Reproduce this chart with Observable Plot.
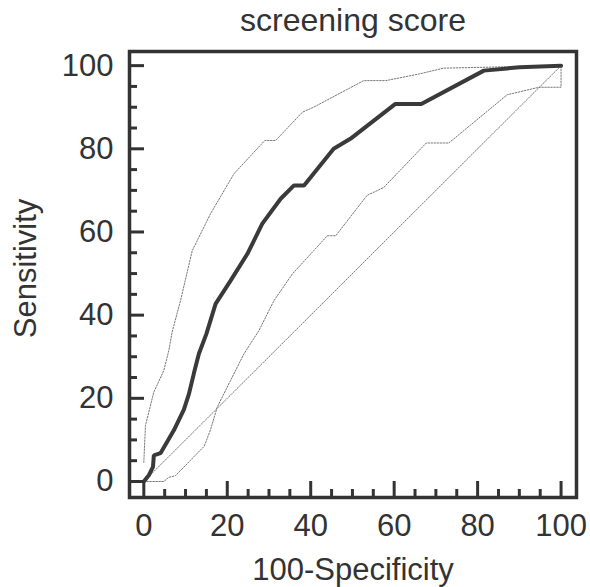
<!DOCTYPE html>
<html><head><meta charset="utf-8">
<script src="https://cdn.jsdelivr.net/npm/d3@7"></script>
<script src="https://cdn.jsdelivr.net/npm/@observablehq/plot@0.6"></script>
<style>body{margin:0;background:#fff} #chart svg{display:block}</style>
</head><body><div id="chart"></div>
<script>
// ROC curve (100-Specificity, Sensitivity)
const rocX = [0, 1.2, 2.2, 2.4, 4, 7.2, 9.6, 10.8, 12, 13.2, 15, 17.2, 20.8, 24.8, 28.4, 32.8, 36, 38.4, 45.5, 49.5, 60.3, 66.5, 81.5, 90, 100];
const rocY = [0, 1.5, 3.5, 6.3, 6.8, 12.3, 17.3, 21, 26, 30.7, 35.5, 42.7, 48.3, 54.7, 62, 68, 71.2, 71.2, 80, 82.4, 90.8, 90.8, 98.8, 99.6, 100];
// upper confidence bound
const upX = [0, 0.4, 2.4, 4.8, 6, 6.8, 8.8, 11.6, 16, 21.6, 29, 31.6, 38, 40.7, 52.7, 58, 66, 71.9, 100];
const upY = [4.6, 13.5, 21.5, 26.7, 31.5, 36, 43.5, 55.5, 64.4, 74, 82, 82, 88.8, 90, 96.4, 96.4, 98, 99.4, 100];
// lower confidence bound
const loX = [0, 4.8, 6, 7.6, 14.5, 16, 17.6, 20.8, 24, 27.6, 31.2, 35.6, 44, 46, 53.5, 57.5, 67.7, 73.1, 87.1, 94.7, 100, 100];
const loY = [0, 0, 1, 1.4, 8.5, 12.5, 17.9, 24.3, 30.7, 36.3, 43.5, 49.9, 59.1, 59.1, 68.8, 70.7, 81.4, 81.4, 93, 94.8, 94.8, 100];
// reference diagonal
const diagX = [0, 100];
const diagY = [0, 100];
// ticks
const majorTicks = [0, 20, 40, 60, 80, 100];
const minorTicks = [5, 10, 15, 25, 30, 35, 45, 50, 55, 65, 70, 75, 85, 90, 95];
const titleText = "screening score";
const xLabelText = "100-Specificity";
const yLabelText = "Sensitivity";

const pts = (xs, ys) => xs.map((x, i) => ({x, y: ys[i]}));
const font = '"Liberation Sans", Arial, Helvetica, sans-serif';
const ink = "#333";
const W = 590, H = 587, mL = 129, mR = 14, mT = 51, mB = 90;
const frameW = W - mL - mR, frameH = H - mT - mB;
const majorLen = 15, minorLen = 8;
const fs = 31;
const dotted = {stroke: "#777", strokeWidth: 1, strokeDasharray: "1.5,1.5"};
const label = {textAnchor: "middle", lineAnchor: "middle", fill: ink};

const chart = Plot.plot({
  width: W, height: H,
  marginLeft: mL, marginRight: mR, marginTop: mT, marginBottom: mB,
  style: {fontFamily: font, background: "#fff", color: ink},
  x: {domain: [-3.43, 103.7], axis: null},
  y: {domain: [-3.85, 103.4], axis: null},
  marks: [
    Plot.line(pts(diagX, diagY), {x: "x", y: "y", ...dotted}),
    Plot.line(pts(upX, upY), {x: "x", y: "y", ...dotted}),
    Plot.line(pts(loX, loY), {x: "x", y: "y", ...dotted}),
    Plot.line(pts(rocX, rocY), {x: "x", y: "y", stroke: "#3a3a3a", strokeWidth: 4, strokeLinejoin: "miter"}),
    Plot.tickY(majorTicks, {y: d => d, stroke: ink, strokeWidth: 3, insetRight: frameW - majorLen}),
    Plot.tickY(minorTicks, {y: d => d, stroke: ink, strokeWidth: 3, insetRight: frameW - minorLen}),
    Plot.tickX(majorTicks, {x: d => d, stroke: ink, strokeWidth: 3, insetTop: frameH - majorLen - 1}),
    Plot.tickX(minorTicks, {x: d => d, stroke: ink, strokeWidth: 3, insetTop: frameH - minorLen}),
    Plot.frame({stroke: ink, strokeWidth: 3.5}),
    Plot.axisX(majorTicks, {tickSize: 0, tickPadding: 16, fontSize: fs, fill: ink, label: null}),
    Plot.axisY(majorTicks, {tickSize: 0, tickPadding: 16, fontSize: fs, fill: ink, label: null}),
    Plot.text([xLabelText], {text: d => d, frameAnchor: "bottom", dy: 73, fontSize: fs, ...label}),
    Plot.text([yLabelText], {text: d => d, frameAnchor: "left", rotate: -90, dx: -103, dy: -6, fontSize: fs, ...label}),
    Plot.text([titleText], {text: d => d, frameAnchor: "top", dy: -31, fontSize: 32, ...label})
  ]
});
document.getElementById("chart").appendChild(chart);
</script>
</body></html>
